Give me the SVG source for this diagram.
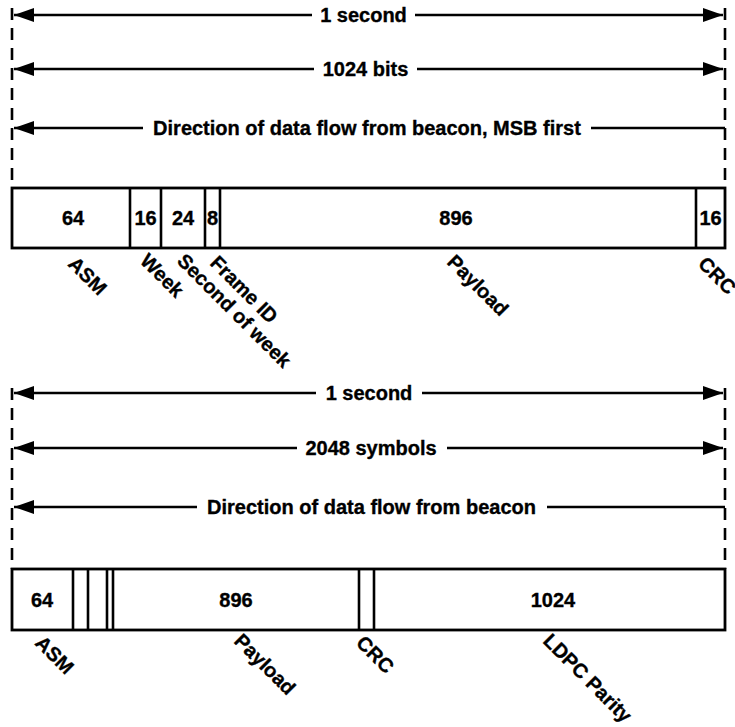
<svg xmlns="http://www.w3.org/2000/svg" width="735" height="727" viewBox="0 0 735 727">
<defs>
<marker id="ah" viewBox="0 0 20 14" refX="20" refY="7" markerWidth="20" markerHeight="14" markerUnits="userSpaceOnUse" orient="auto-start-reverse">
<path d="M0,0 L20,7 L0,14 Z" fill="#000"/>
</marker>
</defs>
<style>
.t{font-family:"Liberation Sans",Arial,sans-serif;font-weight:bold;font-size:20px;fill:#000;stroke:#000;stroke-width:0.35}
.m{text-anchor:middle}
.ln{stroke:#000;stroke-width:2.6;fill:none}
.dash{stroke:#000;stroke-width:2.6;fill:none;stroke-dasharray:12 8}
.box{stroke:#000;stroke-width:2.8;fill:#fff}
.div{stroke:#000;stroke-width:2.6}
</style>
<rect width="735" height="727" fill="#fff"/>
<g id="connectors">
<line class="dash" x1="12" y1="8" x2="12" y2="188"/>
<line class="dash" x1="725" y1="8" x2="725" y2="188"/>
<line class="ln" x1="14" y1="15" x2="312" y2="15" marker-start="url(#ah)"/>
<line class="ln" x1="415" y1="15" x2="723" y2="15" marker-end="url(#ah)"/>
<line class="ln" x1="14" y1="69" x2="314" y2="69" marker-start="url(#ah)"/>
<line class="ln" x1="417" y1="69" x2="723" y2="69" marker-end="url(#ah)"/>
<line class="ln" x1="14" y1="128" x2="143" y2="128" marker-start="url(#ah)"/>
<line class="ln" x1="591" y1="128" x2="725" y2="128"/>
<line class="dash" x1="12" y1="388" x2="12" y2="569"/>
<line class="dash" x1="725" y1="388" x2="725" y2="569"/>
<line class="ln" x1="14" y1="393" x2="316" y2="393" marker-start="url(#ah)"/>
<line class="ln" x1="422" y1="393" x2="723" y2="393" marker-end="url(#ah)"/>
<line class="ln" x1="14" y1="448" x2="297" y2="448" marker-start="url(#ah)"/>
<line class="ln" x1="447" y1="448" x2="723" y2="448" marker-end="url(#ah)"/>
<line class="ln" x1="14" y1="507" x2="197" y2="507" marker-start="url(#ah)"/>
<line class="ln" x1="547" y1="507" x2="725" y2="507"/>
</g>
<g id="top-labels">
<text class="t m" x="363.5" y="22">1 second</text>
<text class="t m" x="365.5" y="76">1024 bits</text>
<text class="t m" x="367" y="135">Direction of data flow from beacon, MSB first</text>
</g>
<g id="frame1">
<rect class="box" x="12" y="188" width="713" height="60"/>
<line class="div" x1="130" y1="188" x2="130" y2="248"/>
<line class="div" x1="161" y1="188" x2="161" y2="248"/>
<line class="div" x1="205" y1="188" x2="205" y2="248"/>
<line class="div" x1="220" y1="188" x2="220" y2="248"/>
<line class="div" x1="696" y1="188" x2="696" y2="248"/>
<text class="t m" x="73" y="225">64</text>
<text class="t m" x="145.5" y="225">16</text>
<text class="t m" x="183" y="225">24</text>
<text class="t m" x="212.5" y="225">8</text>
<text class="t m" x="456" y="225">896</text>
<text class="t m" x="710.5" y="225">16</text>
</g>
<g id="frame1-fields">
<text class="t" transform="translate(67,265) rotate(45)">ASM</text>
<text class="t" transform="translate(139,262) rotate(45)">Week</text>
<text class="t" transform="translate(176,262) rotate(45)">Second of week</text>
<text class="t" transform="translate(209,264) rotate(45)">Frame ID</text>
<text class="t" transform="translate(446,263) rotate(45)">Payload</text>
<text class="t" transform="translate(697,265) rotate(45)">CRC</text>
</g>
<g id="bottom-labels">
<text class="t m" x="369" y="400">1 second</text>
<text class="t m" x="371" y="455">2048 symbols</text>
<text class="t m" x="371.5" y="514">Direction of data flow from beacon</text>
</g>
<g id="frame2">
<rect class="box" x="12" y="569" width="713" height="61"/>
<line class="div" x1="73" y1="569" x2="73" y2="630"/>
<line class="div" x1="88" y1="569" x2="88" y2="630"/>
<line class="div" x1="107" y1="569" x2="107" y2="630"/>
<line class="div" x1="113" y1="569" x2="113" y2="630"/>
<line class="div" x1="359" y1="569" x2="359" y2="630"/>
<line class="div" x1="374" y1="569" x2="374" y2="630"/>
<text class="t m" x="42" y="606.5">64</text>
<text class="t m" x="236" y="606.5">896</text>
<text class="t m" x="553" y="606.5">1024</text>
</g>
<g id="frame2-fields">
<text class="t" transform="translate(34,644) rotate(45)">ASM</text>
<text class="t" transform="translate(233,642) rotate(45)">Payload</text>
<text class="t" transform="translate(355,644) rotate(45)">CRC</text>
<text class="t" transform="translate(542,642) rotate(45)">LDPC Parity</text>
</g>
</svg>
